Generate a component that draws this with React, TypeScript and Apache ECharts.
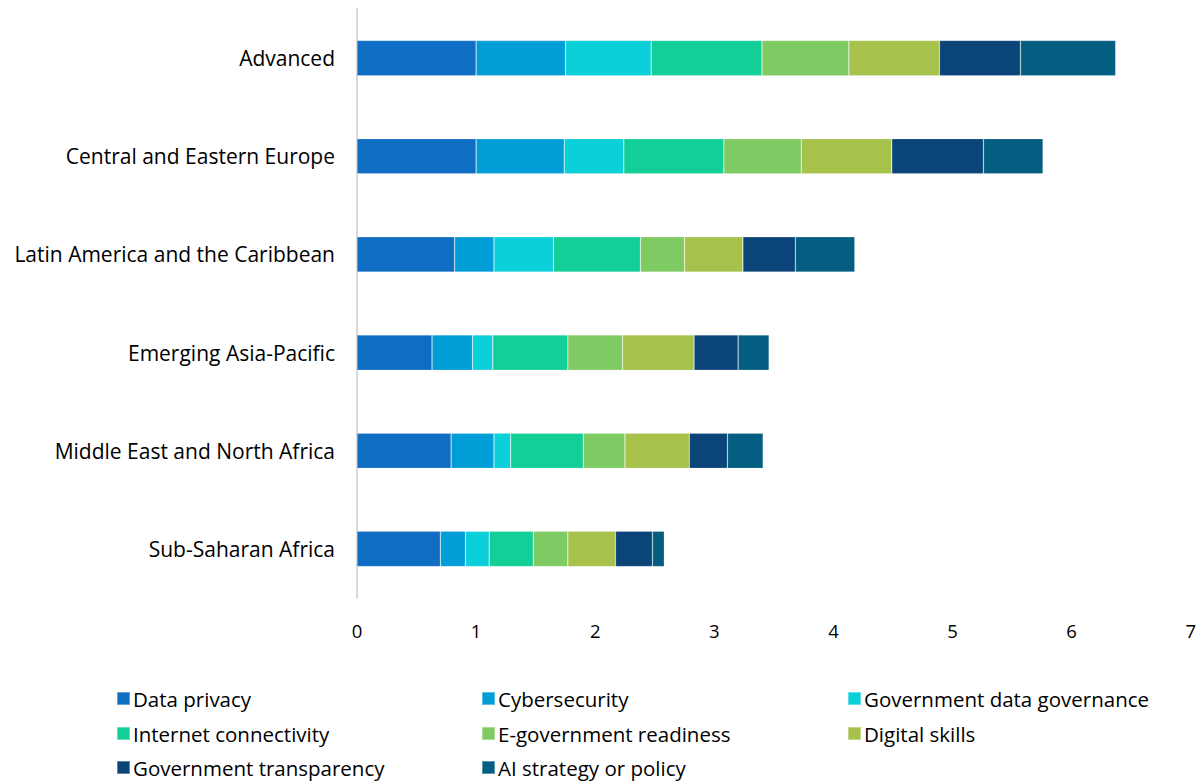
import React, { useEffect, useRef } from "react";
import * as echarts from "echarts";

const regions = [
  "Advanced",
  "Central and Eastern Europe",
  "Latin America and the Caribbean",
  "Emerging Asia-Pacific",
  "Middle East and North Africa",
  "Sub-Saharan Africa",
];

const seriesNames = [
  "Data privacy",
  "Cybersecurity",
  "Government data governance",
  "Internet connectivity",
  "E-government readiness",
  "Digital skills",
  "Government transparency",
  "AI strategy or policy",
];

const colors = [
  "#0F6DC3",
  "#019DD7",
  "#0BCFD9",
  "#12CF98",
  "#7ECA63",
  "#A6C24B",
  "#0B4479",
  "#035E82",
];

// values per series, in region order
const dataPrivacy = [1.0, 1.0, 0.82, 0.63, 0.79, 0.7];
const cybersecurity = [0.75, 0.74, 0.33, 0.34, 0.36, 0.21];
const govDataGovernance = [0.72, 0.5, 0.5, 0.17, 0.14, 0.2];
const internetConnectivity = [0.93, 0.84, 0.73, 0.63, 0.61, 0.37];
const eGovReadiness = [0.73, 0.65, 0.37, 0.46, 0.35, 0.29];
const digitalSkills = [0.76, 0.76, 0.49, 0.6, 0.54, 0.4];
const govTransparency = [0.68, 0.77, 0.44, 0.37, 0.32, 0.31];
const aiStrategy = [0.8, 0.5, 0.5, 0.26, 0.3, 0.1];

const allValues = [
  dataPrivacy,
  cybersecurity,
  govDataGovernance,
  internetConnectivity,
  eGovReadiness,
  digitalSkills,
  govTransparency,
  aiStrategy,
];

const xTicks = [0, 1, 2, 3, 4, 5, 6, 7];

// legend laid out in 3 columns, row-major order
const legendColLefts = [111, 476, 842];
const legendRowTops = [683, 718, 752];

const FONT = "'Open Sans', Lato, sans-serif";

export default function App() {
  const ref = useRef<HTMLDivElement>(null);

  useEffect(() => {
    if (!ref.current) return;
    const chart = echarts.init(ref.current, undefined, { renderer: "svg" });
    chart.setOption({
      animation: false,
      textStyle: { fontFamily: FONT },
      grid: { left: 357, right: 7, top: 9, bottom: 185, containLabel: false },
      xAxis: {
        type: "value",
        min: xTicks[0],
        max: xTicks[xTicks.length - 1],
        interval: 1,
        axisLine: { show: false },
        axisTick: { show: false },
        splitLine: { show: false },
        axisLabel: {
          color: "#000",
          fontSize: 18.5,
          fontFamily: FONT,
          margin: 23,
        },
      },
      yAxis: {
        type: "category",
        data: regions,
        inverse: true,
        axisLine: { show: true, lineStyle: { color: "#D9D9D9", width: 2 } },
        axisTick: { show: false },
        axisLabel: {
          color: "#000",
          fontSize: 21,
          fontFamily: FONT,
          margin: 22,
        },
      },
      legend: seriesNames.map((name, i) => ({
        orient: "horizontal",
        left: legendColLefts[i % 3],
        top: legendRowTops[Math.floor(i / 3)],
        data: [name],
        itemWidth: 13,
        itemHeight: 13,
        selectedMode: false,
        icon: "rect",
        textStyle: {
          color: "#000",
          fontSize: 20.5,
          fontFamily: FONT,
          padding: [0, 0, 0, -2],
        },
      })),
      series: seriesNames.map((name, i) => ({
        name,
        type: "bar",
        stack: "total",
        barWidth: "36%",
        data: allValues[i],
        itemStyle: {
          color: colors[i],
          borderColor: "rgba(255,255,255,0.35)",
          borderWidth: 0.6,
        },
      })),
    });
    return () => chart.dispose();
  }, []);

  return (
    <div
      ref={ref}
      style={{ position: "absolute", left: 0, top: 0, width: 1199, height: 783 }}
    />
  );
}
